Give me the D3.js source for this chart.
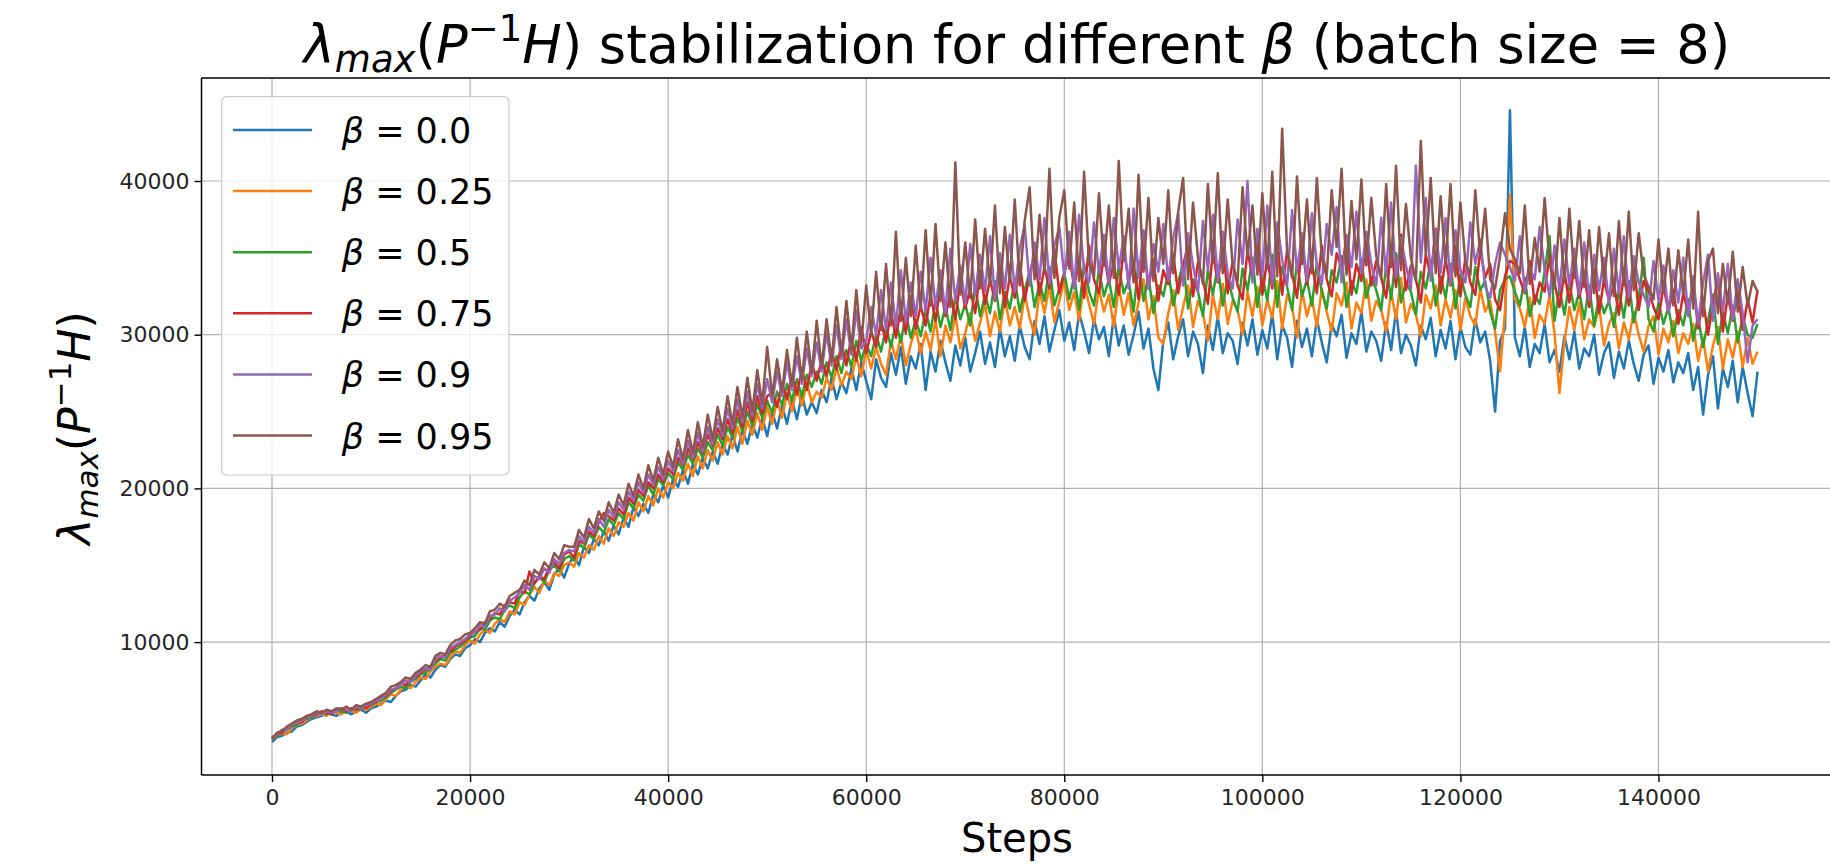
<!DOCTYPE html>
<meta charset="utf-8">
<script src="https://cdn.jsdelivr.net/npm/d3@7"></script>
<style>

body {
  margin: 0;
  background: #fff;
}

svg text {
  font-family: "DejaVu Sans", sans-serif;
}

.tick text {
  fill: #262626;
  font-size: 22px;
}

.tick line {
  stroke: #000;
  stroke-width: 1.4;
}

.grid line {
  stroke: #b0b0b0;
  stroke-width: 1.2;
}

.line {
  fill: none;
  stroke-width: 2.5;
  stroke-linejoin: round;
}

</style>
<body>
<div id="chart"></div>
<script type="text/javascript">

// step counter (x) and tick labels
var steps = d3.range(0, 150001, 500);
var xTicks = [0, 20000, 40000, 60000, 80000, 100000, 120000, 140000];
var yTicks = [10000, 20000, 30000, 40000];

var betas = ["0.0", "0.25", "0.5", "0.75", "0.9", "0.95"];
var colors = ["#1f77b4", "#ff7f0e", "#2ca02c", "#d62728", "#9467bd", "#8c564b"];

// lambda_max values, in thousands, one every 500 steps
var beta00 = [3.5, 3.8, 3.9, 4.1, 4.2, 4.5, 4.6, 4.8, 5.0, 5.1,
  5.2, 5.4, 5.3, 5.2, 5.4, 5.5, 5.3, 5.5, 5.6, 5.4,
  5.7, 5.8, 6.0, 6.2, 6.1, 6.5, 6.8, 6.9, 7.2, 7.1,
  7.5, 7.9, 7.7, 8.2, 8.5, 8.4, 8.9, 9.2, 9.1, 9.6,
  9.8, 10.2, 10.0, 10.6, 10.9, 10.7, 11.3, 11.0, 11.7, 12.1,
  11.8, 12.6, 13.0, 12.7, 13.5, 13.9, 13.4, 14.4, 14.8, 14.2,
  15.1, 15.6, 15.0, 16.2, 15.8, 16.7, 16.3, 17.2, 16.6, 17.6,
  17.0, 18.1, 17.5, 18.8, 18.2, 19.0, 18.4, 19.6, 19.1, 20.2,
  19.4, 20.6, 20.1, 21.2, 20.3, 21.6, 20.9, 22.0, 21.3, 22.4,
  21.6, 22.9, 22.2, 23.5, 22.4, 23.8, 22.9, 24.2, 23.3, 24.6,
  23.4, 25.0, 23.9, 25.4, 24.2, 25.8, 24.5, 26.1, 24.8, 25.6,
  24.9, 26.4, 25.6, 27.2, 25.8, 26.9, 26.2, 27.8, 26.4, 28.2,
  27.0, 25.8, 28.4, 27.2, 26.6, 28.8, 27.4, 29.2, 26.8, 28.6,
  27.8, 29.4, 26.4, 28.9, 27.6, 29.6, 28.2, 27.0, 29.3, 28.0,
  29.8, 27.6, 28.8, 30.2, 28.1, 29.5, 27.9, 30.4, 28.6, 29.9,
  28.3, 30.6, 29.2, 28.4, 30.9, 29.4, 31.2, 28.9, 30.3, 31.6,
  29.6, 30.8, 29.0, 31.4, 30.2, 28.8, 31.0, 29.7, 30.5, 28.6,
  31.2, 29.3, 30.6, 28.7, 30.0, 31.5, 29.1, 30.4, 27.8, 26.4,
  29.6, 30.8, 28.4, 29.9, 31.0, 28.6, 30.2, 29.4, 27.5, 30.6,
  29.0, 31.2, 28.8, 30.1, 29.6, 28.1, 30.8, 29.3, 31.0, 28.7,
  30.3, 29.1, 31.4, 28.4, 30.6, 29.8, 27.9, 30.9, 29.2, 30.4,
  28.6, 31.0, 29.5, 28.2, 30.7, 29.9, 31.3, 28.5, 30.1, 29.4,
  31.5, 28.9, 30.2, 29.6, 28.3, 30.8, 29.0, 31.6, 28.8, 30.0,
  29.3, 28.0, 30.6, 29.7, 31.1, 28.6, 30.3, 29.1, 30.9, 28.4,
  30.5, 29.2, 28.7, 31.0, 29.5, 30.2, 28.3, 25.0, 29.6, 30.4,
  44.6, 29.8, 28.6, 30.5, 27.9, 29.4, 28.8, 30.7, 28.2, 29.0,
  27.6, 29.9, 28.4, 30.2, 27.8, 29.1, 28.6, 30.0, 27.4, 28.8,
  29.5, 27.2, 28.9, 27.8, 29.6, 28.1, 27.0, 28.7, 29.3, 26.8,
  28.5, 27.6, 29.0, 26.9, 28.2, 27.5, 28.8, 26.4, 27.9, 24.8,
  27.4, 28.6, 25.2, 27.8, 26.6, 28.3, 25.6, 27.9, 26.2, 24.7,
  27.6];

var beta025 = [3.7, 3.9, 4.1, 4.0, 4.4, 4.6, 4.7, 4.9, 5.1, 5.2,
  5.3, 5.2, 5.5, 5.4, 5.3, 5.6, 5.5, 5.4, 5.7, 5.6,
  5.8, 6.0, 5.9, 6.3, 6.6, 6.5, 6.9, 7.2, 7.0, 7.4,
  7.7, 7.6, 8.1, 8.4, 8.6, 8.5, 9.0, 9.4, 9.3, 9.8,
  10.1, 9.9, 10.5, 10.8, 10.6, 11.2, 11.5, 11.3, 12.0, 11.8,
  12.6, 12.4, 13.1, 13.6, 13.2, 14.0, 13.7, 14.5, 14.3, 15.0,
  15.2,
  14.9, 15.8, 15.5, 16.3, 16.0, 16.9, 16.4, 17.4, 16.9, 17.8,
  17.5, 18.4, 17.9, 19.1, 18.5, 19.5, 18.9, 20.0, 19.4, 20.4,
  20.0, 21.0, 20.5, 21.6, 20.8, 22.1, 21.3, 22.5, 21.8, 23.0,
  22.2, 23.4, 22.6, 24.0, 22.9, 24.4, 23.5, 24.9, 23.8, 25.3,
  24.2, 25.7, 24.6, 26.2, 25.0, 26.6, 25.4, 26.9, 25.6, 26.3,
  25.9, 27.2, 26.4, 27.9, 26.7, 27.6, 27.1, 28.6, 27.3, 29.0,
  27.8, 29.2, 28.1, 27.4, 29.6, 28.4, 30.0, 28.0, 29.4, 30.4,
  28.8, 30.2, 29.0, 31.0, 28.6, 30.6, 29.5, 31.3, 29.1, 30.1,
  31.4, 29.6, 30.8, 32.0, 29.9, 31.5, 30.2, 32.4, 30.6, 31.8,
  30.4, 32.6, 31.1, 30.0, 32.9, 31.4, 33.2, 30.8, 32.2, 33.5,
  31.6, 32.8, 30.9, 33.4, 32.0, 30.7, 33.0, 31.5, 32.6, 30.5,
  33.2, 31.3, 32.7, 30.6, 32.1, 33.6, 31.0, 32.5, 29.8, 29.4,
  31.4, 32.9, 30.3, 31.8, 33.2, 30.5, 32.2, 31.4, 29.6, 32.6,
  31.0, 33.3, 30.7, 32.2, 31.6, 30.0, 32.8, 31.2, 33.1, 30.6,
  32.3, 31.1, 33.5, 30.4, 32.6, 31.8, 29.8, 32.9, 31.2, 32.4,
  30.5, 33.0, 31.5, 30.2, 32.7, 31.9, 33.4, 30.4, 32.1, 31.4,
  33.6, 30.9, 32.2, 31.6, 30.2, 32.8, 31.0, 33.7, 30.8, 32.0,
  31.3, 29.9, 32.6, 31.7, 33.2, 30.6, 32.3, 31.1, 32.9, 30.3,
  32.4, 31.2, 30.6, 33.0, 31.5, 32.2, 30.2, 27.6, 31.5, 39.1,
  32.3, 31.7, 30.5, 32.4, 29.8, 31.3, 30.7, 32.6, 30.1, 26.2,
  29.5, 31.8, 30.3, 32.1, 29.7, 31.0, 30.5, 31.9, 29.3, 30.7,
  31.4, 29.1, 30.8, 29.7, 31.5, 30.0, 28.9, 30.6, 31.2, 28.7,
  30.4, 29.5, 30.9, 28.8, 30.1, 29.4, 30.7, 28.3, 29.8, 27.6,
  29.3, 30.5, 27.8, 29.7, 28.5, 30.2, 27.9, 29.8, 28.1, 28.9];

var beta05 = [3.8, 3.9, 4.2, 4.3, 4.5, 4.6, 4.9, 5.0, 5.1, 5.3,
  5.4, 5.3, 5.4, 5.6, 5.5, 5.4, 5.6, 5.7, 5.6, 5.8,
  5.9, 6.1, 6.2, 6.4, 6.7, 6.9, 7.1, 7.0, 7.4, 7.6,
  7.9, 8.0, 8.3, 8.6, 8.9, 8.8, 9.3, 9.5, 9.7, 10.0,
  10.3, 10.4, 10.9, 10.8, 11.4, 11.6, 11.5, 12.1, 12.4, 12.2,
  12.9, 13.3, 13.1, 13.9, 14.2, 13.9, 14.7, 15.0, 14.6, 15.4,
  15.6, 15.3, 16.4, 16.1, 17.0, 16.7, 17.5, 17.1, 18.0, 17.6,
  18.4, 18.0, 19.1, 18.7, 19.6, 19.2, 20.2, 19.6, 20.6, 20.2,
  21.0, 20.6, 21.7, 21.2, 22.2, 21.6, 22.6, 22.0, 23.0, 22.5,
  23.5, 22.8, 24.0, 23.3, 24.6, 23.7, 25.0, 24.1, 25.5, 24.6,
  25.7, 24.9, 26.3, 25.4, 26.8, 25.7, 27.1, 26.0, 27.4, 26.6,
  27.6, 26.8, 28.2, 27.2, 28.6, 27.5, 29.0, 27.9, 29.6, 28.3,
  29.4, 28.6, 30.0, 28.9, 30.5, 29.2, 30.8, 29.5, 31.4, 29.8,
  31.0, 29.9, 31.6, 30.2, 32.2, 30.5, 31.8, 30.3, 32.5, 31.0,
  32.0, 30.6, 33.2, 31.2, 32.6, 31.4, 33.5, 31.0, 32.8, 31.7,
  33.6, 31.5, 32.9, 34.1, 31.8, 33.4, 32.2, 34.4, 31.9, 33.0,
  34.0, 32.3, 33.8, 31.6, 34.6, 32.8, 31.9, 34.2, 32.5, 33.6,
  31.8, 34.4, 32.7, 33.5, 31.5, 34.8, 32.2, 33.8, 31.4, 33.2,
  32.5, 34.1, 31.9, 33.4, 34.7, 31.7, 33.6, 32.8, 31.2, 34.2,
  32.6, 34.5, 31.9, 33.7, 32.4, 31.5, 34.3, 32.9, 35.0, 31.8,
  33.9, 32.2, 35.2, 31.8, 34.4, 33.1, 31.6, 34.8, 32.5, 33.6,
  31.9, 34.6, 32.8, 31.7, 34.2, 33.4, 35.1, 31.8, 33.5, 32.7,
  34.9, 32.4, 33.7, 32.9, 31.6, 34.5, 32.3, 35.3, 32.1, 33.4,
  32.8, 31.3, 34.1, 33.0, 34.8, 31.9, 33.8, 32.4, 34.6, 31.7,
  33.9, 32.6, 31.8, 34.4, 32.9, 33.5, 31.5, 30.4, 32.9, 33.6,
  33.8, 32.8, 31.9, 33.7, 31.2, 32.6, 32.0, 34.1, 36.4, 30.9,
  33.0, 31.3, 33.4, 31.6, 32.8, 31.0, 33.2, 30.6, 32.5, 31.4,
  32.2, 30.5, 32.9, 31.1, 33.5, 30.8, 32.4, 35.0, 31.0, 30.2,
  32.1, 30.7, 31.8, 29.9, 31.6, 30.6, 32.3, 29.6, 31.2, 29.2,
  30.9, 32.6, 29.4, 31.5, 30.1, 31.9, 29.5, 31.2, 30.0, 29.8,
  30.7];

var beta075 = [3.7, 4.0, 4.1, 4.4, 4.6, 4.8, 4.8, 5.1, 5.2, 5.3,
  5.5, 5.4, 5.3, 5.6, 5.7, 5.5, 5.7, 5.6, 5.8, 5.7,
  6.0, 6.1, 6.4, 6.5, 6.8, 7.0, 7.3, 7.2, 7.6, 7.7,
  8.0, 8.2, 8.4, 8.8, 9.0, 9.1, 9.4, 9.7, 9.9, 10.1,
  10.4, 10.7, 10.8, 11.3, 11.5, 11.9, 11.8, 12.4, 12.6, 12.5,
  13.3, 13.2, 14.6, 13.8, 14.3, 14.1, 14.9, 15.2, 14.8, 15.7,
  15.9, 15.5, 16.6, 16.4, 17.2, 16.9, 17.8, 18.4, 18.2, 17.9,
  18.7, 18.3, 19.4, 19.0, 19.9, 19.5, 20.4, 20.0, 20.9, 20.4,
  21.3, 20.9, 22.0, 21.5, 22.6, 21.9, 23.0, 22.3, 23.5, 22.8,
  23.9, 23.2, 24.5, 23.6, 25.1, 24.0, 25.6, 24.4, 26.0, 24.9,
  26.0,
  26.2, 25.3, 26.8, 25.8, 27.4, 26.1, 27.8, 26.4, 28.2, 27.0,
  28.4, 27.3, 29.0, 27.7, 29.5, 28.0, 29.9, 28.3, 30.5, 28.8,
  30.2, 29.2, 30.9, 29.5, 31.5, 29.8, 31.8, 30.1, 32.5, 30.4,
  31.9, 30.6, 32.6, 30.9, 33.2, 31.2, 32.7, 31.0, 33.6, 31.7,
  33.0, 31.4, 34.2, 32.0, 33.6, 32.2, 34.6, 31.8, 33.8, 32.4,
  34.7, 32.2, 33.9, 35.3, 32.6, 34.4, 33.0, 35.6, 32.7, 34.0,
  35.2, 33.1, 34.9, 32.4, 35.8, 33.6, 32.7, 35.3, 33.3, 34.7,
  32.6, 35.6, 33.5, 34.6, 32.3, 36.0, 33.0, 34.9, 32.2, 34.2,
  33.3, 35.2, 32.7, 34.5, 35.9, 32.5, 34.7, 33.6, 32.0, 35.4,
  33.4, 35.7, 32.7, 34.8, 33.2, 32.3, 35.5, 33.7, 36.2, 32.6,
  35.0, 33.0, 36.4, 32.6, 35.5, 34.0, 32.4, 36.0, 33.3, 34.7,
  32.7, 35.8, 33.6, 32.5, 35.3, 34.3, 36.3, 32.6, 34.6, 33.5,
  36.1, 33.2, 34.8, 33.7, 32.4, 35.6, 33.1, 36.5, 32.9, 34.5,
  33.6, 32.1, 35.2, 33.8, 36.9, 32.7, 34.9, 33.2, 35.8, 32.5,
  35.0, 33.4, 32.6, 35.5, 33.7, 34.6, 32.3, 31.6, 33.8, 34.8,
  34.6, 33.6, 32.7, 34.8, 32.0, 33.4, 32.8, 35.2, 33.4, 31.8,
  34.1, 32.1, 34.5, 32.4, 33.9, 31.8, 34.3, 31.4, 33.6, 32.2,
  33.3, 31.3, 34.0, 31.9, 34.6, 31.6, 33.5, 32.8, 31.8, 31.0,
  33.2, 31.5, 32.9, 30.7, 32.7, 31.4, 33.4, 30.4, 32.3, 30.0,
  32.0, 33.7, 30.2, 32.6, 30.9, 33.0, 30.3, 32.3, 30.8, 32.9];

var beta09 = [3.8, 4.0, 4.3, 4.3, 4.6, 4.8, 4.9, 5.1, 5.2, 5.4,
  5.3, 5.5, 5.4, 5.5, 5.7, 5.6, 5.5, 5.8, 5.7, 5.9,
  6.0, 6.2, 6.3, 6.6, 6.9, 7.0, 7.2, 7.5, 7.4, 7.8,
  8.1, 8.3, 8.2, 8.9, 9.1, 9.0, 9.6, 9.8, 10.0, 10.2,
  10.5, 10.6, 11.1, 11.0, 11.7, 11.8, 12.2, 12.0, 12.7, 12.9,
  13.2, 13.7, 13.4, 14.3, 14.1, 14.8, 14.5, 15.4, 15.1, 15.8,
  16.0, 15.9, 16.9, 16.5, 17.5, 17.1, 18.0, 17.5, 18.6, 18.1,
  19.1, 18.6, 19.8, 19.2, 20.4, 19.7, 20.9, 20.2, 21.4, 20.6,
  21.8, 21.1, 22.5, 21.6, 23.1, 22.0, 23.6, 22.4, 24.0, 22.9,
  24.5, 23.4, 25.2, 23.9, 25.8, 24.3, 26.3, 24.7, 26.8, 25.2,
  27.1, 25.6, 27.6, 26.0, 28.2, 26.4, 28.6, 26.8, 29.1, 27.3,
  29.5, 27.6, 30.1, 28.0, 30.6, 28.4, 31.0, 28.7, 31.6, 29.1,
  29.6, 31.8, 30.0, 32.9, 30.3, 33.4, 30.5, 34.2, 30.8,
  33.4, 31.2, 34.1, 31.5, 35.0, 31.8, 34.2, 31.4, 35.6, 32.2,
  34.5, 32.0, 35.9, 32.6, 35.2, 32.8, 36.4, 32.3, 35.3, 33.0,
  36.5, 32.8, 35.6, 37.1, 33.2, 36.0, 33.6, 37.6, 33.3, 35.8,
  37.0, 33.8, 36.7, 33.0, 37.8, 34.2, 33.4, 37.3, 34.0, 36.5,
  33.3, 37.6, 34.3, 36.4, 33.0, 38.2, 33.7, 36.8, 33.0, 35.9,
  34.1, 37.2, 33.5, 36.3, 37.9, 33.2, 36.6, 34.5, 32.8, 37.4,
  34.2, 37.8, 33.5, 36.7, 34.0, 33.0, 37.5, 34.6, 40.0, 33.4,
  36.9, 33.8, 38.4, 33.3, 37.3, 34.9, 33.2, 38.1, 34.1, 36.6,
  33.5, 37.9, 34.5, 33.3, 37.2, 35.2, 38.3, 33.4, 36.5, 34.4,
  38.0, 34.0, 36.7, 34.6, 33.2, 37.6, 33.9, 38.6, 33.7, 36.3,
  34.5, 33.0, 41.0, 34.7, 38.9, 33.5, 36.8, 34.0, 37.6, 33.3,
  36.8, 34.2, 33.4, 37.3, 34.6, 36.2, 33.1, 32.4, 34.6, 36.0,
  35.2, 34.4, 33.5, 36.4, 32.8, 34.3, 33.6, 37.0, 34.2, 32.5,
  35.8, 32.9, 36.2, 33.2, 35.6, 32.6, 36.0, 32.2, 35.2, 32.9,
  35.0, 32.0, 35.6, 32.7, 36.4, 32.4, 35.1, 33.4, 32.6, 31.8,
  34.8, 32.2, 34.5, 31.4, 34.2, 32.1, 35.0, 31.2, 33.8, 30.7,
  33.4, 35.2, 30.9, 34.0, 31.5, 34.6, 31.0, 33.6, 31.4, 28.2,
  30.6, 31.0];

var beta095 = [3.7, 4.1, 4.2, 4.5, 4.7, 4.9, 5.0, 5.2, 5.3, 5.5,
  5.4, 5.6, 5.5, 5.7, 5.6, 5.8, 5.6, 5.9, 5.8, 6.0,
  6.1, 6.3, 6.5, 6.7, 7.1, 7.2, 7.4, 7.7, 7.6, 8.0,
  8.2, 8.5, 8.4, 9.1, 9.3, 9.2, 9.8, 10.1, 10.2, 10.5,
  10.6, 10.9, 11.3, 11.2, 12.0, 12.1, 12.5, 12.3, 13.0, 13.2,
  13.4, 14.0, 13.7, 14.7, 14.4, 15.2, 14.8, 15.8, 15.4, 16.3,
  16.2, 16.2, 17.3, 16.8, 18.0, 17.4, 18.5, 17.9, 19.1, 18.4,
  19.6, 18.9, 20.3, 19.5, 20.9, 20.0, 21.5, 20.5, 22.0, 20.9,
  22.4, 21.4, 23.2, 21.9, 23.8, 22.3, 24.3, 22.7, 24.8, 23.2,
  25.3, 23.7, 26.0, 24.2, 26.6, 24.6, 27.2, 25.0, 27.7, 25.5,
  29.2, 26.0, 28.4, 26.3, 29.0, 26.7, 29.8, 27.1, 30.2, 27.5,
  30.9, 27.9, 31.0, 28.3, 31.8, 28.7, 32.2, 29.0, 32.9, 29.4,
  33.2, 30.0, 34.1, 30.3, 34.6, 30.6, 36.7, 30.9, 35.0, 31.2,
  35.8, 31.6, 36.8, 31.9, 37.2, 32.2, 36.0, 31.8, 41.2, 32.6,
  36.0, 32.4, 37.5, 33.0, 36.9, 33.2, 38.4, 32.7, 37.0, 33.4,
  38.8, 33.2, 37.4, 39.6, 33.6, 37.8, 34.0, 40.8, 33.7, 37.6,
  39.4, 34.3, 38.6, 33.5, 40.6, 34.6, 33.8, 39.2, 34.5, 38.4,
  33.7, 41.3, 34.8, 38.2, 33.4, 40.4, 34.1, 38.9, 33.5, 37.6,
  34.6, 39.4, 34.0, 38.0, 40.2, 33.6, 38.6, 35.0, 33.3, 39.8,
  34.7, 40.5, 34.0, 38.8, 34.5, 33.5, 39.6, 35.1, 38.4, 33.9,
  39.2, 34.3, 40.6, 33.8, 43.4, 35.4, 33.7, 40.3, 34.6, 38.8,
  34.0, 40.2, 35.0, 33.8, 39.4, 35.7, 40.8, 33.9, 38.7, 34.9,
  40.1, 34.5, 38.9, 35.1, 33.7, 39.8, 34.4, 41.0, 34.2, 38.5,
  35.0, 33.5, 42.6, 35.2, 40.2, 34.0, 39.0, 34.5, 39.8, 33.8,
  38.6, 34.7, 33.9, 39.4, 35.1, 38.2, 33.6, 33.0, 35.1, 37.9,
  35.6, 34.9, 34.0, 38.4, 33.3, 36.3, 34.1, 38.9, 34.7, 33.0,
  37.6, 33.4, 38.2, 33.7, 37.4, 33.1, 36.8, 32.7, 37.0, 33.4,
  36.6, 32.5, 37.4, 33.2, 38.0, 32.9, 36.6, 33.9, 33.1, 32.3,
  36.2, 32.7, 35.6, 31.9, 35.5, 32.6, 36.2, 31.7, 38.0, 31.2,
  34.8, 35.6, 31.4, 34.6, 32.0, 35.4, 31.5, 34.4, 31.9, 33.5,
  32.8];

var seriesValues = [beta00, beta025, beta05, beta075, beta09, beta095];

// figure layout
var W = 1830, H = 866;
var plot = {left: 201.5, right: 1832, top: 78, bottom: 775};

var svg = d3.select("#chart").append("svg")
    .attr("width", W)
    .attr("height", H);

// scales, anchored on the tick positions of the figure
var x = d3.scaleLinear()
    .domain([0, 140000])
    .range([272, 1658.5]);

var y = d3.scaleLinear()
    .domain([0, 40000])
    .range([795.8, 181]);

svg.append("clipPath").attr("id", "plotClip")
  .append("rect")
    .attr("x", plot.left)
    .attr("y", plot.top)
    .attr("width", plot.right - plot.left)
    .attr("height", plot.bottom - plot.top);

// grid
var grid = svg.append("g").attr("class", "grid");
grid.selectAll(".vgrid")
    .data(xTicks)
  .enter().append("line")
    .attr("x1", function(d) { return x(d); })
    .attr("x2", function(d) { return x(d); })
    .attr("y1", plot.top)
    .attr("y2", plot.bottom);
grid.selectAll(".hgrid")
    .data(yTicks)
  .enter().append("line")
    .attr("x1", plot.left)
    .attr("x2", plot.right)
    .attr("y1", function(d) { return y(d); })
    .attr("y2", function(d) { return y(d); });

// lines
var line = d3.line()
    .defined(function(d, i) { return i < steps.length; })
    .x(function(d, i) { return x(steps[i]); })
    .y(function(d) { return y(d * 1000); });

svg.append("g")
    .attr("clip-path", "url(#plotClip)")
  .selectAll(".line")
    .data(seriesValues)
  .enter().append("path")
    .attr("class", "line")
    .attr("stroke", function(d, i) { return colors[i]; })
    .attr("d", line);

// axes
var xAxis = svg.append("g")
    .attr("transform", "translate(0," + plot.bottom + ")")
    .call(d3.axisBottom(x).tickValues(xTicks).tickSize(7).tickPadding(7).tickFormat(d3.format("d")));
xAxis.select(".domain").remove();

var yAxis = svg.append("g")
    .attr("transform", "translate(" + plot.left + ",0)")
    .call(d3.axisLeft(y).tickValues(yTicks).tickSize(7).tickPadding(5).tickFormat(d3.format("d")));
yAxis.select(".domain").remove();

// spines
var spines = svg.append("g")
    .attr("stroke", "#000")
    .attr("stroke-width", 1.5);
spines.append("line").attr("x1", plot.left).attr("x2", plot.left).attr("y1", plot.top).attr("y2", plot.bottom);
spines.append("line").attr("x1", plot.left).attr("x2", plot.right).attr("y1", plot.bottom).attr("y2", plot.bottom);
spines.append("line").attr("x1", plot.left).attr("x2", plot.right).attr("y1", plot.top).attr("y2", plot.top);
spines.append("line").attr("x1", plot.right).attr("x2", plot.right).attr("y1", plot.top).attr("y2", plot.bottom);

// title
var title = svg.append("text")
    .attr("x", 1017)
    .attr("y", 63)
    .attr("text-anchor", "middle")
    .style("font-size", "52.5px")
    .attr("fill", "#000");
title.append("tspan").attr("font-style", "italic").text("λ");
title.append("tspan").attr("font-style", "italic").attr("font-size", "37px").attr("dy", 9).text("max");
title.append("tspan").attr("dy", -9).text("(");
title.append("tspan").attr("font-style", "italic").text("P");
title.append("tspan").attr("font-size", "37px").attr("dy", -22).text("−1");
title.append("tspan").attr("font-style", "italic").attr("dy", 22).text("H");
title.append("tspan").text(") stabilization for different ");
title.append("tspan").attr("font-style", "italic").text("β");
title.append("tspan").text(" (batch size = 8)");

// axis labels
svg.append("text")
    .attr("x", 1017)
    .attr("y", 852)
    .attr("text-anchor", "middle")
    .style("font-size", "40px")
    .text("Steps");

var ylab = svg.append("text")
    .attr("transform", "translate(90,428) rotate(-90)")
    .attr("text-anchor", "middle")
    .style("font-size", "44px");
ylab.append("tspan").attr("font-style", "italic").text("λ");
ylab.append("tspan").attr("font-style", "italic").attr("font-size", "31px").attr("dy", 8).text("max");
ylab.append("tspan").attr("dy", -8).text("(");
ylab.append("tspan").attr("font-style", "italic").text("P");
ylab.append("tspan").attr("font-size", "31px").attr("dy", -19).text("−1");
ylab.append("tspan").attr("font-style", "italic").attr("dy", 19).text("H");
ylab.append("tspan").text(")");

// legend
var legend = svg.append("g");
legend.append("rect")
    .attr("x", 221.7)
    .attr("y", 96.7)
    .attr("width", 287.3)
    .attr("height", 378.3)
    .attr("rx", 5)
    .attr("fill", "#fff")
    .attr("fill-opacity", 0.8)
    .attr("stroke", "#cccccc")
    .attr("stroke-width", 1.2);

var entry = legend.selectAll(".entry")
    .data(betas)
  .enter().append("g")
    .attr("transform", function(d, i) { return "translate(0," + (130 + i * 61.1) + ")"; });

entry.append("line")
    .attr("x1", 233)
    .attr("x2", 312)
    .attr("stroke-width", 2.5)
    .attr("stroke", function(d, i) { return colors[i]; });

var entryText = entry.append("text")
    .attr("x", 341.7)
    .attr("y", 13)
    .style("font-size", "35px");
entryText.append("tspan").attr("font-style", "italic").text("β");
entryText.append("tspan").text(function(d) { return " = " + d; });

</script>
</body>
</html>
